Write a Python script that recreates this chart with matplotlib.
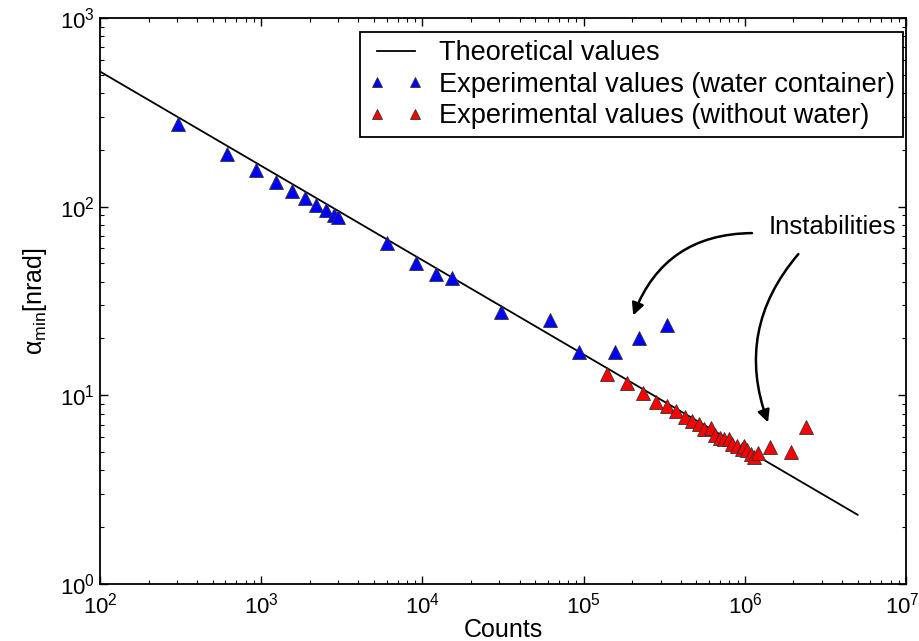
import numpy as np
import matplotlib
matplotlib.use('Agg')
import matplotlib.pyplot as plt
import matplotlib.transforms as mtransforms

plt.rcParams['font.family'] = ['Liberation Sans', 'DejaVu Sans']
plt.rcParams['mathtext.fontset'] = 'custom'
plt.rcParams['mathtext.rm'] = 'Liberation Sans'
plt.rcParams['mathtext.it'] = 'Liberation Sans:italic'

# theoretical curve: alpha = k / sqrt(counts)
theory_k = 5200.0
theory_range = [1e2, 5e6]

# experimental values (water container)
water_counts = [305, 614, 929, 1236, 1553, 1870, 2188, 2525, 2830, 2995,
                6026, 9120, 12140, 15270, 30760, 61950, 93600, 156600,
                220800, 328800]
water_alpha = [274, 190, 156, 135, 121, 111, 102, 96, 90, 88,
               64, 50, 44, 41.9, 27.6, 25.1, 16.9, 16.9, 20.1, 23.6]

# experimental values (without water)
dry_counts = [139600, 185800, 233500, 281000, 328800, 374000, 425500, 470000,
              520000, 558500, 616600, 653000, 701500, 743000, 797700, 833000,
              895000, 961600, 989000, 1032000, 1093000, 1141000, 1208000,
              1433000, 1935000, 2397000]
dry_alpha = [12.97, 11.62, 10.28, 9.21, 8.78, 8.26, 7.67, 7.31, 7.04, 6.63,
             6.71, 6.17, 5.94, 5.87, 5.87, 5.52, 5.39, 5.19, 5.39, 5.13,
             4.88, 4.71, 4.95, 5.32, 5.01, 6.79]

fig = plt.figure(figsize=(9.2, 6.41), dpi=100)
ax = fig.add_axes([0.1087, 0.089, 0.8763, 0.883])

x_th = np.logspace(np.log10(theory_range[0]), np.log10(theory_range[1]), 200)
ax.plot(x_th, theory_k / np.sqrt(x_th), color='black', lw=1.3, label='Theoretical values')
ax.plot(water_counts, water_alpha, ls='none', marker='^', ms=9.5, mfc='blue',
        mec='#333333', mew=0.6, label='Experimental values (water container)')
ax.plot(dry_counts, dry_alpha, ls='none', marker='^', ms=9.5, mfc='red',
        mec='#333333', mew=0.6, label='Experimental values (without water)')

ax.set_xscale('log')
ax.set_yscale('log')
ax.set_xlim(1e2, 1e7)
ax.set_ylim(1e0, 1e3)

ax.tick_params(which='both', direction='in', top=True, right=True, labelsize=16)
ax.tick_params(axis='x', which='both', pad=6)
ax.tick_params(which='major', length=6, width=1)
ax.tick_params(which='minor', length=3, width=0.8)
for s in ax.spines.values():
    s.set_linewidth(1.3)

ax.set_xlabel('Counts', fontsize=18, labelpad=0)
ax.set_ylabel(r'α$_{\rm min}$[nrad]', fontsize=18, labelpad=8)

leg = ax.legend(loc='upper right', bbox_to_anchor=(0.996, 0.975), numpoints=2,
                fontsize=19.5, fancybox=False, edgecolor='black', framealpha=1,
                handlelength=2.0, handletextpad=0.6, borderpad=0.3,
                labelspacing=0.2, markerscale=0.7, borderaxespad=0)
leg.get_frame().set_linewidth(1.3)

ax.text(3.5e6, 78, 'Instabilities', fontsize=18.5, ha='center', va='center')
ax.annotate('', xy=(2.0e5, 25.7), xytext=(1.15e6, 72.4),
            arrowprops=dict(arrowstyle='-|>', color='black', lw=1.8,
                            connectionstyle='arc3,rad=0.35', mutation_scale=18))
ax.annotate('', xy=(1.41e6, 6.96), xytext=(2.2e6, 57.5),
            arrowprops=dict(arrowstyle='-|>', color='black', lw=1.8,
                            connectionstyle='arc3,rad=0.3', mutation_scale=18))

# keep the last x tick label inside the canvas
fig.canvas.draw()
shift = mtransforms.ScaledTranslation(-4 / 100, 0, fig.dpi_scale_trans)
for tick in ax.xaxis.get_major_ticks():
    if np.isclose(tick.get_loc(), 1e7):
        tick.label1.set_transform(tick.label1.get_transform() + shift)

fig.savefig('out.png', dpi=100)
